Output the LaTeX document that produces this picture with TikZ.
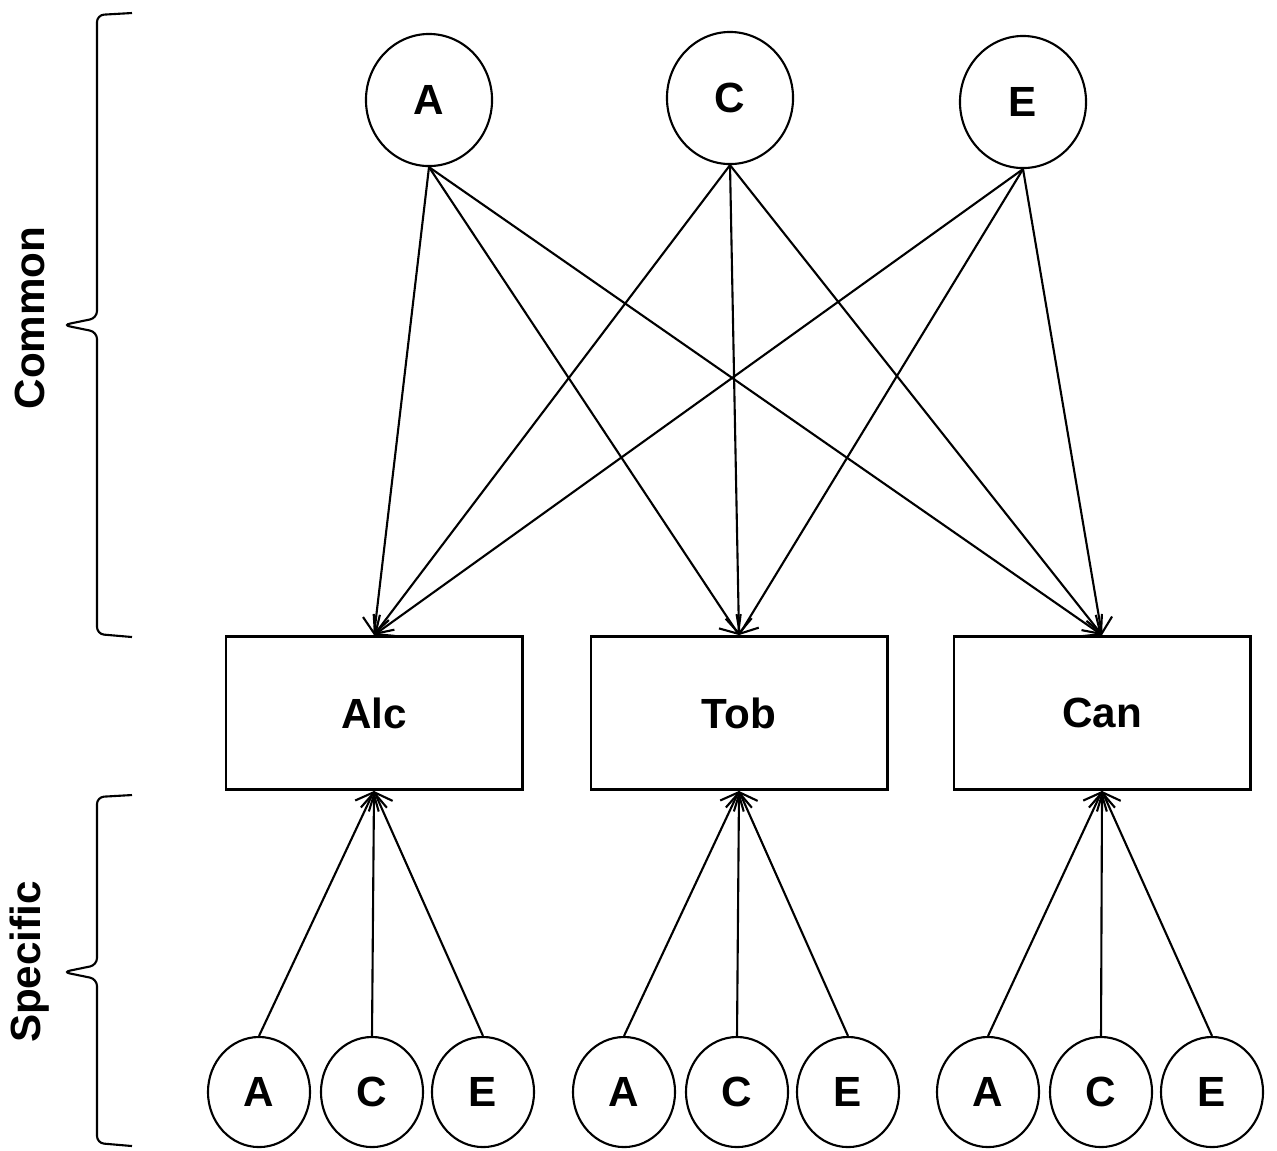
\documentclass[tikz,border=0pt]{standalone}
\usepackage{fontspec}
\setmainfont{Liberation Sans}
\usetikzlibrary{arrows.meta,shapes.geometric}
\tikzset{>={Straight Barb[length=1.5mm,width=2.6mm]}}
\tikzset{
  factor/.style={draw,ellipse,inner sep=0pt,font=\large\bfseries},
  common/.style={factor,minimum width=1.26cm,minimum height=1.32cm},
  specific/.style={factor,minimum width=1.02cm,minimum height=1.10cm},
  pheno/.style={draw,line width=0.8pt,minimum width=2.96cm,minimum height=1.53cm,font=\large\bfseries},
  side/.style={rotate=90,font=\large\bfseries}
}

\begin{document}
\begin{tikzpicture}[x=0.01cm,y=-0.01cm,line width=0.6pt]
    \useasboundingbox (0,0) rectangle (1277,1150);
    % common factors
    \node[common] (cA) at (429,100) {A};
    \node[common] (cC) at (730,98) {C};
    \node[common] (cE) at (1023,102) {E};
    % phenotypes
    \node[pheno] (alc) at (374,713) {Alc};
    \node[pheno] (tob) at (739,713) {Tob};
    \node[pheno] (can) at (1102,713) {Can};
    \foreach \f in {cA,cC,cE}
        \foreach \p in {alc,tob,can}
            \draw[->] (\f.south) -- (\p.north);
    % specific factors
    \foreach \p/\x in {alc/372,tob/737,can/1101}{
        \node[specific] (\p A) at ({\x-113},1092) {A};
        \node[specific] (\p C) at (\x,1092) {C};
        \node[specific] (\p E) at ({\x+111},1092) {E};
        \foreach \f in {A,C,E}
            \draw[->] (\p\f.north) -- (\p.south);
    }
    % braces
    \draw[rounded corners=2pt] (132,13) -- (97,15) -- (97,318) -- (63,325)
        -- (97,332) -- (97,634) -- (132,637);
    \draw[rounded corners=2pt] (132,795) -- (97,797) -- (97,965) -- (63,972)
        -- (97,979) -- (97,1143) -- (132,1146);
    \node[side] (common) at (30,318) {Common};
    \node[side] (specific) at (30,962) {Specific};
\end{tikzpicture}
\end{document}
